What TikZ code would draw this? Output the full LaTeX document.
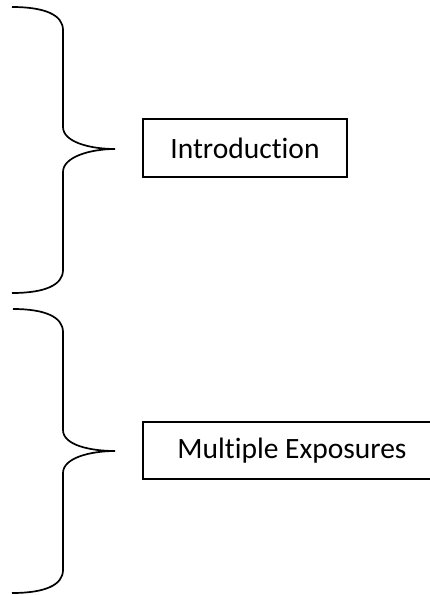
\documentclass[tikz,border=0pt]{standalone}
\usepackage{fontspec}
\setmainfont{Carlito}[Ligatures={NoCommon}]

\begin{document}
\begin{tikzpicture}[x=1pt,y=-1pt,
	brace/.style={line width=1.7pt},
	box/.style={draw,line width=1.7pt,inner sep=0,outer sep=0,font=\fontsize{29.5}{35}\selectfont}]
	\useasboundingbox (0,0) rectangle (430,595);
	\clip (0,0) rectangle (430,595);
	\node[box,minimum width=204pt,minimum height=58pt] (intro) at (245,148) {Introduction};
	\node[box,minimum width=298pt,minimum height=57pt] (multi) at (292,450.5) {Multiple Exposures};
	\draw[brace] (12,7) .. controls (45,7) and (63,15) .. (63,30) -- (63,127)
		.. controls (63,142) and (90,149) .. (115,149)
		.. controls (90,149) and (63,157) .. (63,172) -- (63,270)
		.. controls (63,285) and (45,293) .. (12,293);
	\draw[brace] (13,309) .. controls (45,309) and (63,317) .. (63,332) -- (63,430)
		.. controls (63,445) and (90,451) .. (115,451)
		.. controls (90,451) and (63,458) .. (63,473) -- (63,570)
		.. controls (63,585) and (45,593) .. (12,593);
\end{tikzpicture}
\end{document}
